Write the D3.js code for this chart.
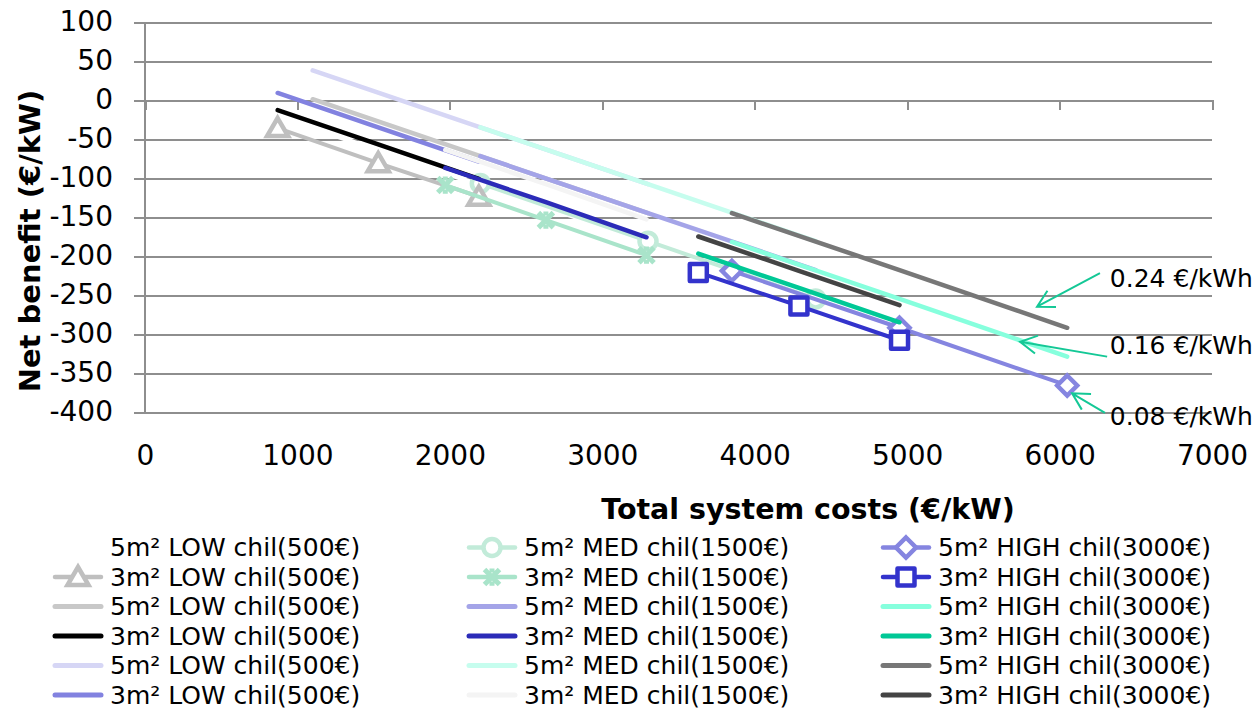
<!DOCTYPE html>
<html>
<head>
<meta charset="utf-8">
<script src="https://cdn.jsdelivr.net/npm/d3@7"></script>
<style>
  body { margin: 0; background: #fff; }
  svg { display: block; font-family: "DejaVu Sans", Verdana, sans-serif; }
</style>
</head>
<body>
<svg width="1254" height="710"></svg>
<script>
// legend labels (as written in the original, row by row)
var labels = [
  "5m² LOW chil(500€)", "5m² MED chil(1500€)", "5m² HIGH chil(3000€)",
  "3m² LOW chil(500€)", "3m² MED chil(1500€)", "3m² HIGH chil(3000€)",
  "5m² LOW chil(500€)", "5m² MED chil(1500€)", "5m² HIGH chil(3000€)",
  "3m² LOW chil(500€)", "3m² MED chil(1500€)", "3m² HIGH chil(3000€)",
  "5m² LOW chil(500€)", "5m² MED chil(1500€)", "5m² HIGH chil(3000€)",
  "3m² LOW chil(500€)", "3m² MED chil(1500€)", "3m² HIGH chil(3000€)"
];

// total system costs (€/kW)
var costLow5  = [1100, 2200, 3300];
var costMed5  = [2200, 3300, 4400];
var costHigh5 = [3850, 4950, 6050];
var costLow3  = [870, 1530, 2190];
var costMed3  = [1970, 2630, 3290];
var costHigh3 = [3630, 4290, 4950];

// net benefit (€/kW), 0.08 €/kWh
var low5_008  = [-36, -109, -182];
var med5_008  = [-107, -181, -255];
var high5_008 = [-219, -292, -366];
var low3_008  = [-36, -81, -124];
var med3_008  = [-109, -154, -199];
var high3_008 = [-221, -264, -308];

// net benefit (€/kW), 0.16 €/kWh
var low5_016  = [1, -72, -145];
var med5_016  = [-72, -145, -218];
var high5_016 = [-182, -255, -329];
var low3_016  = [-13, -57, -101];
var med3_016  = [-87, -131, -176];
var high3_016 = [-197, -241, -285];

// net benefit (€/kW), 0.24 €/kWh
var low5_024  = [38, -35, -108];
var med5_024  = [-35, -108, -181];
var high5_024 = [-145, -218, -292];
var low3_024  = [9, -35, -79];
var med3_024  = [-64, -108, -153];
var high3_024 = [-175, -219, -263];

var xTicks = [0, 1000, 2000, 3000, 4000, 5000, 6000, 7000];
var yTicks = [100, 50, 0, -50, -100, -150, -200, -250, -300, -350, -400];

var priceLabels = ["0.24 €/kWh", "0.16 €/kWh", "0.08 €/kWh"];

// series table
var xs = [costLow5, costMed5, costHigh5, costLow3, costMed3, costHigh3];
var ys = [low5_008, med5_008, high5_008, low3_008, med3_008, high3_008,
          low5_016, med5_016, high5_016, low3_016, med3_016, high3_016,
          low5_024, med5_024, high5_024, low3_024, med3_024, high3_024];

var colors = ["#ffffff", "#c2ebd9", "#8585e0", "#bfbfbf", "#a9e4ca", "#3333cc",
              "#c8c8c8", "#a4a4e8", "#86ffdd", "#000000", "#2b2bb8", "#00c896",
              "#d6d6f5", "#c6fdee", "#777777", "#8282e0", "#f4f4f4", "#444444"];
var markers = ["none", "circle", "diamond", "triangle", "star", "square"];

var series = ys.map(function(v, i) {
  var cx = xs[i % 6];
  return {
    label: labels[i],
    color: colors[i],
    marker: markers[i] || "none",
    points: v.map(function(d, j) { return [cx[j], d]; })
  };
});

var svg = d3.select("svg");

var x = d3.scaleLinear().domain([0, 7000]).range([145, 1212]),
    y = d3.scaleLinear().domain([-400, 100]).range([412, 22]);

var gridColor = "#8e8e8e";
var plain = function(d) { return String(d); };

// horizontal gridlines + y ticks
svg.append("g")
    .attr("transform", "translate(134,0)")
    .call(d3.axisLeft(y).tickValues(yTicks).tickFormat(plain).tickSize(-(1212 - 134)).tickPadding(21))
    .call(function(g) { g.select(".domain").remove(); })
    .call(function(g) {
      g.selectAll("line").attr("stroke", gridColor).attr("stroke-width", 2).attr("shape-rendering", "crispEdges");
      g.selectAll("text").attr("font-size", 28).attr("fill", "#000")
        .attr("font-family", "DejaVu Sans, Verdana, sans-serif");
    });

// vertical axis line
svg.append("line")
    .attr("x1", x(0)).attr("x2", x(0))
    .attr("y1", y(100)).attr("y2", y(-400))
    .attr("stroke", gridColor).attr("stroke-width", 2).attr("shape-rendering", "crispEdges");

// x ticks hanging from the zero line
svg.append("g")
    .attr("transform", "translate(0," + y(0) + ")")
    .call(d3.axisBottom(x).tickValues(xTicks).tickSize(10).tickFormat(""))
    .call(function(g) { g.select(".domain").remove(); })
    .call(function(g) {
      g.selectAll("line").attr("stroke", gridColor).attr("stroke-width", 2).attr("shape-rendering", "crispEdges");
    });

// x tick labels below the plot
svg.append("g")
    .attr("transform", "translate(0,445)")
    .call(d3.axisBottom(x).tickValues(xTicks).tickFormat(plain).tickSize(0).tickPadding(0))
    .call(function(g) { g.select(".domain").remove(); })
    .call(function(g) {
      g.selectAll("text").attr("font-size", 28).attr("fill", "#000")
        .attr("font-family", "DejaVu Sans, Verdana, sans-serif");
    });

// axis titles
svg.append("text")
    .attr("x", 808).attr("y", 519)
    .attr("text-anchor", "middle")
    .attr("font-size", 28.5).attr("font-weight", "bold")
    .text("Total system costs (€/kW)");

svg.append("text")
    .attr("transform", "translate(40,241) rotate(-90)")
    .attr("text-anchor", "middle")
    .attr("font-size", 29).attr("font-weight", "bold")
    .text("Net benefit (€/kW)");

// marker shapes
function markerPath(type, s) {
  if (type === "circle") return d3.symbol(d3.symbolCircle, Math.PI * s * s)();
  if (type === "square") return "M" + (-s) + "," + (-s) + "H" + s + "V" + s + "H" + (-s) + "Z";
  if (type === "diamond") return "M0," + (-s) + "L" + s + ",0L0," + s + "L" + (-s) + ",0Z";
  if (type === "triangle") return "M0," + (-s) + "L" + (s * 1.05) + "," + (s * 0.8) + "L" + (-s * 1.05) + "," + (s * 0.8) + "Z";
  if (type === "star") return "M" + (-s) + "," + (-s) + "L" + s + "," + s + "M" + s + "," + (-s) + "L" + (-s) + "," + s +
                              "M0," + (-s * 1.15) + "V" + (-s * 0.6) + "M0," + (s * 0.6) + "V" + (s * 1.15);
  return "";
}
var markerSize = { circle: 8.5, square: 8.5, diamond: 10, triangle: 10, star: 7.5 };

function drawMarker(g, type, color, cx, cy) {
  if (type === "none") return;
  g.append("path")
      .attr("d", markerPath(type, markerSize[type]))
      .attr("transform", "translate(" + cx + "," + cy + ")")
      .attr("fill", type === "star" ? "none" : "#fff")
      .attr("stroke", color)
      .attr("stroke-width", type === "star" ? 5 : 4.5)
      .attr("stroke-linejoin", type === "square" ? "round" : "miter");
}

var line = d3.line()
    .x(function(d) { return x(d[0]); })
    .y(function(d) { return y(d[1]); });

var plot = svg.append("g");

series.forEach(function(s) {
  var g = plot.append("g");
  g.append("path")
      .attr("d", line(s.points))
      .attr("fill", "none")
      .attr("stroke", s.color)
      .attr("stroke-width", s.marker === "none" ? 4.5 : 4)
      .attr("stroke-linecap", "round")
      .attr("stroke-linejoin", "round");
  s.points.forEach(function(p) {
    drawMarker(g, s.marker, s.color, x(p[0]), y(p[1]));
  });
});

// price annotations, arrow ends and label anchors in data units
var arrowFrom = [[6265, -222], [6312, -329], [6298, -401]];
var arrowTo   = [[5852, -265], [5741, -310], [6082, -376]];
var labelPos  = [[6330, -240], [6330, -326], [6330, -417]];

var annot = svg.append("g");
priceLabels.forEach(function(t, i) {
  var x0 = x(arrowFrom[i][0]), y0 = y(arrowFrom[i][1]),
      x1 = x(arrowTo[i][0]), y1 = y(arrowTo[i][1]);
  var a = Math.atan2(y0 - y1, x0 - x1), len = 19, spread = 0.5;
  var p = "M" + x0 + "," + y0 + "L" + x1 + "," + y1 +
          "M" + (x1 + len * Math.cos(a - spread)) + "," + (y1 + len * Math.sin(a - spread)) +
          "L" + x1 + "," + y1 +
          "L" + (x1 + len * Math.cos(a + spread)) + "," + (y1 + len * Math.sin(a + spread));
  annot.append("path")
      .attr("d", p)
      .attr("fill", "none")
      .attr("stroke", "#14c896")
      .attr("stroke-width", 2);
  annot.append("text")
      .attr("x", x(labelPos[i][0])).attr("y", y(labelPos[i][1]))
      .attr("font-size", 25)
      .text(t);
});

// legend, three columns filled row by row
var legendCols = [53, 467, 881],
    legendTop = 547.5,
    legendStep = 29.5;

var legend = svg.append("g");
series.forEach(function(s, i) {
  var cx = legendCols[i % 3],
      cy = legendTop + Math.floor(i / 3) * legendStep;
  var g = legend.append("g");
  g.append("line")
      .attr("x1", cx + 2).attr("x2", cx + 48)
      .attr("y1", cy).attr("y2", cy)
      .attr("stroke", s.color)
      .attr("stroke-width", s.marker === "none" ? 5 : 4.5)
      .attr("stroke-linecap", "round");
  drawMarker(g, s.marker, s.color, cx + 25, cy);
  g.append("text")
      .attr("x", cx + 57).attr("y", cy + 8.5)
      .attr("font-size", 25)
      .text(s.label);
});
</script>
</body>
</html>
